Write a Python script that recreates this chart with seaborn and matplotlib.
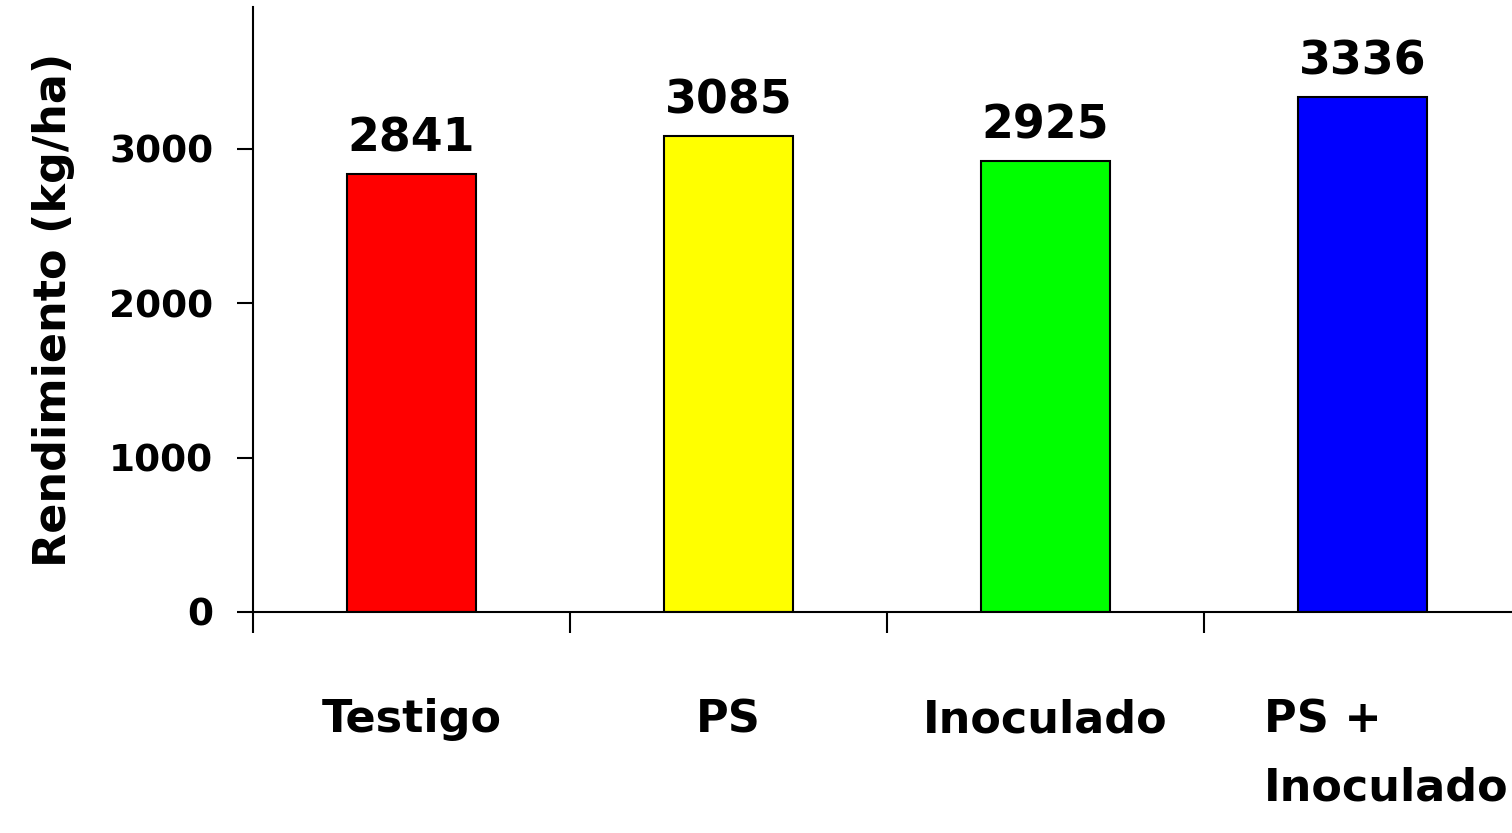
import pandas as pd
import matplotlib.pyplot as plt
import matplotlib.transforms as mtransforms
import seaborn as sns

# Chart data
categories = ['Testigo', 'PS', 'Inoculado', 'PS +\nInoculado']
rendimiento = [2841, 3085, 2925, 3336]
bar_colors = ['#ff0000', '#ffff00', '#00ff00', '#0000ff']
y_ticks = [0, 1000, 2000, 3000]

sns.set_style("white")
plt.rcParams['font.family'] = ['DejaVu Sans']
plt.rcParams['font.weight'] = 'bold'
plt.rcParams['text.color'] = 'black'
plt.rcParams['axes.labelcolor'] = 'black'
plt.rcParams['xtick.color'] = 'black'
plt.rcParams['ytick.color'] = 'black'
plt.rcParams['axes.edgecolor'] = 'black'

df = pd.DataFrame({'Tratamiento': categories, 'Rendimiento': rendimiento})

fig = plt.figure(figsize=(15.12, 8.33), dpi=100)
ax = fig.add_axes([253 / 1512, 1 - 612 / 833, 1268 / 1512, 605 / 833])

sns.barplot(data=df, x='Tratamiento', y='Rendimiento', hue='Tratamiento',
            palette=bar_colors, width=0.41, edgecolor='black', linewidth=1.5,
            legend=False, ax=ax, saturation=1)

# Value labels above the bars
for i, v in enumerate(rendimiento):
    ax.text(i, v + 80, str(v), ha='center', va='bottom',
            fontsize=33, fontweight='bold', color='black')

ax.set_ylim(0, 3920)
ax.set_xlim(-0.5, 3.5)
ax.set_yticks(y_ticks)
ax.set_yticklabels([str(t) for t in y_ticks])

# Spines
for side in ['top', 'right']:
    ax.spines[side].set_visible(False)
ax.spines['left'].set_linewidth(1.5)
ax.spines['bottom'].set_linewidth(1.5)

# Ticks: y ticks outward, x ticks at category boundaries
ax.tick_params(axis='y', direction='out', length=11.5, width=1.5,
               pad=17, labelsize=27, left=True)
ax.set_xticks([-0.5, 0.5, 1.5, 2.5, 3.5], minor=True)
ax.tick_params(axis='x', which='minor', direction='out', length=15, width=1.5,
               bottom=True)
ax.tick_params(axis='x', which='major', length=0, pad=62, labelsize=32)
for lbl in ax.get_xticklabels():
    lbl.set_fontweight('bold')
    lbl.set_multialignment('left')
    lbl.set_linespacing(1.75)
# last label block sits slightly right of its category
last = ax.get_xticklabels()[-1]
last.set_transform(last.get_transform() +
                   mtransforms.ScaledTranslation(0.24, 0, fig.dpi_scale_trans))
for lbl in ax.get_yticklabels():
    lbl.set_fontweight('bold')

ax.set_xlabel('')
ax.set_ylabel('Rendimiento (kg/ha)', fontsize=32, fontweight='bold')
ax.yaxis.set_label_coords(-0.14, 0.5)

plt.savefig('out.png', dpi=100)
